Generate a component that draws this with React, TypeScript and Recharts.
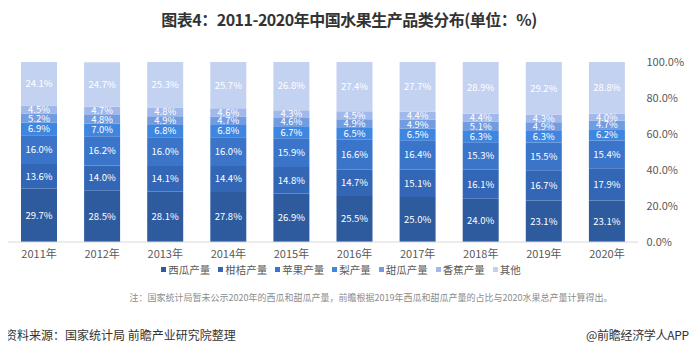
import React from 'react';
import { BarChart, Bar, XAxis, YAxis, LabelList } from 'recharts';

const years = ['2011年', '2012年', '2013年', '2014年', '2015年', '2016年', '2017年', '2018年', '2019年', '2020年'];
const watermelon = [29.7, 28.5, 28.1, 27.8, 26.9, 25.5, 25.0, 24.0, 23.1, 23.1];
const citrus = [13.6, 14.0, 14.1, 14.4, 14.8, 14.7, 15.1, 16.1, 16.7, 17.9];
const apple = [16.0, 16.2, 16.0, 16.0, 15.9, 16.6, 16.4, 15.3, 15.5, 15.4];
const pear = [6.9, 7.0, 6.8, 6.8, 6.7, 6.5, 6.5, 6.3, 6.3, 6.2];
const melon = [5.2, 4.8, 4.9, 4.7, 4.6, 4.9, 4.9, 5.1, 4.9, 4.7];
const banana = [4.5, 4.7, 4.8, 4.6, 4.3, 4.5, 4.4, 4.4, 4.3, 4.0];
const other = [24.1, 24.7, 25.3, 25.7, 26.8, 27.4, 27.7, 28.9, 29.2, 28.8];
const yTicks = [0, 20, 40, 60, 80, 100];

const series = [
  { key: 'watermelon', name: '西瓜产量', values: watermelon, color: '#2D5B9E' },
  { key: 'citrus', name: '柑桔产量', values: citrus, color: '#3367B6' },
  { key: 'apple', name: '苹果产量', values: apple, color: '#3A75CA' },
  { key: 'pear', name: '梨产量', values: pear, color: '#3E86DF' },
  { key: 'melon', name: '甜瓜产量', values: melon, color: '#729BE0' },
  { key: 'banana', name: '香蕉产量', values: banana, color: '#A0B8EA' },
  { key: 'other', name: '其他', values: other, color: '#C4D2F1' },
];

const data = years.map((y, i) => {
  const row: any = { year: y };
  series.forEach((s) => { row[s.key] = s.values[i]; });
  return row;
});

const FONT = '"Noto Sans CJK SC", "Noto Sans", sans-serif';

export default function App() {
  return (
    <div style={{ position: 'relative', width: 698, height: 354, margin: -8, background: '#fff', fontFamily: FONT, overflow: 'hidden' }}>
      <div style={{ position: 'absolute', left: 0, top: 7, width: 698, textAlign: 'center', fontSize: 16, fontWeight: 'bold', color: '#333', letterSpacing: -0.5 }}>
        图表4：2011-2020年中国水果生产品类分布(单位：%)
      </div>
      <BarChart
        width={698}
        height={354}
        data={data}
        margin={{ top: 62, right: 0, bottom: 82, left: 7.5 }}
        barCategoryGap={13.5}
      >
        <XAxis
          dataKey="year"
          height={30}
          tickLine={false}
          axisLine={{ stroke: '#D9D9D9' }}
          tick={{ fontSize: 11, fill: '#595959', fontFamily: FONT }}
          interval={0}
        />
        <YAxis
          orientation="right"
          width={59.5}
          domain={[0, 100]}
          allowDataOverflow
          ticks={yTicks}
          tickFormatter={(v: number) => v.toFixed(1) + '%'}
          tickLine={false}
          axisLine={false}
          tick={{ fontSize: 11, fill: '#595959', fontFamily: FONT, textAnchor: 'start' }}
        />
        {series.map((s) => (
          <Bar key={s.key} dataKey={s.key} name={s.name} stackId="a" fill={s.color} isAnimationActive={false}>
            <LabelList
              dataKey={s.key}
              position="center"
              formatter={(v: any) => Number(v).toFixed(1) + '%'}
              style={{ fill: '#ffffff', fontSize: 9.5, fontFamily: FONT }}
            />
          </Bar>
        ))}
      </BarChart>
      <div style={{ position: 'absolute', left: 0, top: 262, width: 690, display: 'flex', justifyContent: 'center', fontSize: 10.5, color: '#595959', whiteSpace: 'nowrap' }}>
        {series.map((s) => (
          <div key={s.key} style={{ display: 'flex', alignItems: 'center', marginRight: 8 }}>
            <span style={{ display: 'inline-block', width: 5, height: 5, background: s.color, marginRight: 2 }} />
            <span>{s.name}</span>
          </div>
        ))}
      </div>
      <div style={{ position: 'absolute', left: 0, top: 291, width: 742, textAlign: 'center', fontSize: 9, color: '#8C8C8C', whiteSpace: 'nowrap' }}>
        注：国家统计局暂未公示2020年的西瓜和甜瓜产量，前瞻根据2019年西瓜和甜瓜产量的占比与2020水果总产量计算得出。
      </div>
      <div style={{ position: 'absolute', left: 5, top: 326, fontSize: 12, color: '#333', whiteSpace: 'nowrap' }}>
        资料来源：国家统计局 前瞻产业研究院整理
      </div>
      <div style={{ position: 'absolute', left: 586, top: 326, fontSize: 12, color: '#333', whiteSpace: 'nowrap', letterSpacing: -0.3 }}>
        @前瞻经济学人APP
      </div>
    </div>
  );
}
